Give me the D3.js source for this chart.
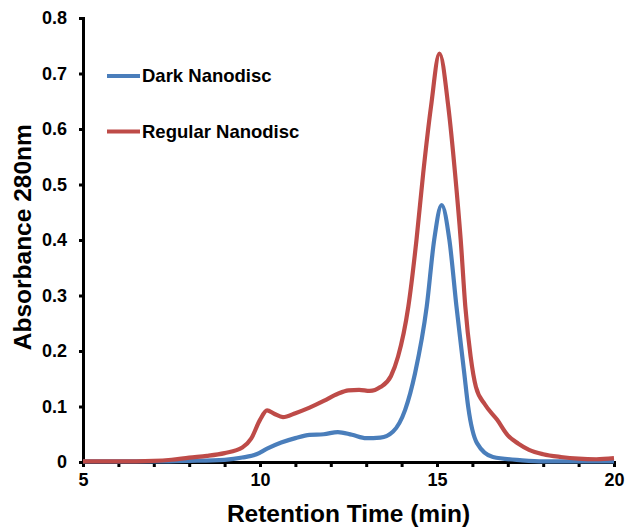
<!DOCTYPE html>
<html>
<head>
<meta charset="utf-8">
<script src="https://cdn.jsdelivr.net/npm/d3@7"></script>
<style>
  body { margin: 0; background: #fff; }
  text { font-family: "Liberation Sans", Arial, sans-serif; font-weight: bold; fill: #000; }
</style>
</head>
<body>
<svg width="626" height="532"></svg>
<script>
// retention time (min), absorbance at 280nm
const darkTime = [5, 7, 8, 9, 9.5, 9.9, 10.2, 10.6, 11, 11.4, 11.8, 12.2, 12.6, 13.0, 13.4, 13.76, 14.1, 14.38, 14.71, 14.92, 15.13, 15.35, 15.55, 15.77, 15.88, 16.13, 16.58, 17.4, 18, 20];
const darkAbs  = [0.001, 0.001, 0.002, 0.004, 0.008, 0.014, 0.024, 0.035, 0.043, 0.049, 0.050, 0.054, 0.049, 0.043, 0.044, 0.055, 0.094, 0.16, 0.28, 0.40, 0.463, 0.40, 0.28, 0.16, 0.10, 0.034, 0.009, 0.003, 0.001, 0.001];

const regTime = [5, 6, 7, 7.5, 8, 8.5, 9, 9.5, 9.75, 10, 10.2, 10.4, 10.65, 11, 11.4, 11.8, 12.2, 12.5, 12.8, 13.1, 13.4, 13.7, 13.9, 14.19, 14.42, 14.61, 14.83, 15.07, 15.32, 15.51, 15.67, 15.8, 15.95, 16.1, 16.35, 16.7, 17.0, 17.3, 17.6, 18.0, 18.5, 19.0, 19.5, 20];
const regAbs  = [0.001, 0.001, 0.002, 0.004, 0.008, 0.011, 0.016, 0.026, 0.042, 0.076, 0.093, 0.087, 0.081, 0.088, 0.098, 0.110, 0.123, 0.129, 0.130, 0.128, 0.135, 0.155, 0.19, 0.28, 0.40, 0.52, 0.64, 0.736, 0.64, 0.52, 0.40, 0.28, 0.19, 0.135, 0.104, 0.076, 0.048, 0.033, 0.022, 0.014, 0.009, 0.006, 0.005, 0.007];

const seriesNames = ["Dark Nanodisc", "Regular Nanodisc"];
const seriesColors = ["#4a7ebb", "#be4b48"];
const xTicks = [5, 10, 15, 20];
const yTicks = [0, 0.1, 0.2, 0.3, 0.4, 0.5, 0.6, 0.7, 0.8];

const svg = d3.select("svg");
const margin = { top: 18, right: 12, bottom: 70, left: 83 };
const width = +svg.attr("width");
const height = +svg.attr("height");

const x = d3.scaleLinear().domain([5, 20]).range([margin.left, width - margin.right]);
const y = d3.scaleLinear().domain([0, 0.8]).range([height - margin.bottom, margin.top]);

const series = [
  d3.zip(darkTime, darkAbs),
  d3.zip(regTime, regAbs)
];

const line = d3.line()
  .x(d => x(d[0]))
  .y(d => y(d[1]))
  .curve(d3.curveMonotoneX);

// x axis, minor tick every minute
const xAxis = svg.append("g")
  .attr("transform", `translate(0,${y(0)})`)
  .call(d3.axisBottom(x).tickValues(d3.range(5, 21, 1)).tickSize(5)
    .tickFormat(d => xTicks.includes(d) ? d : ""));
xAxis.select(".domain").attr("stroke-width", 3);
xAxis.selectAll(".tick line").attr("stroke-width", 3);
xAxis.selectAll("text").attr("font-size", 18).attr("dy", "1.0em").attr("y", 6)
  .style("font-family", "Liberation Sans, Arial, sans-serif").style("font-weight", "bold");

// y axis
const yAxis = svg.append("g")
  .attr("transform", `translate(${x(5)},0)`)
  .call(d3.axisLeft(y).tickValues(yTicks).tickSize(4).tickPadding(12)
    .tickFormat(d => d === 0 ? "0" : d3.format(".1f")(d)));
yAxis.select(".domain").attr("stroke-width", 3);
yAxis.selectAll(".tick line").attr("stroke-width", 3);
yAxis.selectAll("text").attr("font-size", 18)
  .style("font-family", "Liberation Sans, Arial, sans-serif").style("font-weight", "bold");

// curves
svg.append("g").selectAll("path")
  .data(series)
  .join("path")
  .attr("fill", "none")
  .attr("stroke", (d, i) => seriesColors[i])
  .attr("stroke-width", 4.2)
  .attr("d", line);

// legend
const legend = svg.append("g").selectAll("g")
  .data(seriesNames)
  .join("g")
  .attr("transform", (d, i) => `translate(107,${76 + i * 55.5})`);
legend.append("line")
  .attr("x1", 0).attr("x2", 33)
  .attr("stroke", (d, i) => seriesColors[i])
  .attr("stroke-width", 4.2);
legend.append("text")
  .attr("x", 35).attr("dy", "0.35em")
  .attr("font-size", 18.5)
  .text(d => d);

// axis titles
svg.append("text")
  .attr("x", (x(5) + x(20)) / 2)
  .attr("y", 522)
  .attr("text-anchor", "middle")
  .attr("font-size", 24.5)
  .text("Retention Time (min)");

svg.append("text")
  .attr("transform", `translate(31,${y(0.405)}) rotate(-90)`)
  .attr("text-anchor", "middle")
  .attr("font-size", 24.5)
  .text("Absorbance 280nm");
</script>
</body>
</html>
